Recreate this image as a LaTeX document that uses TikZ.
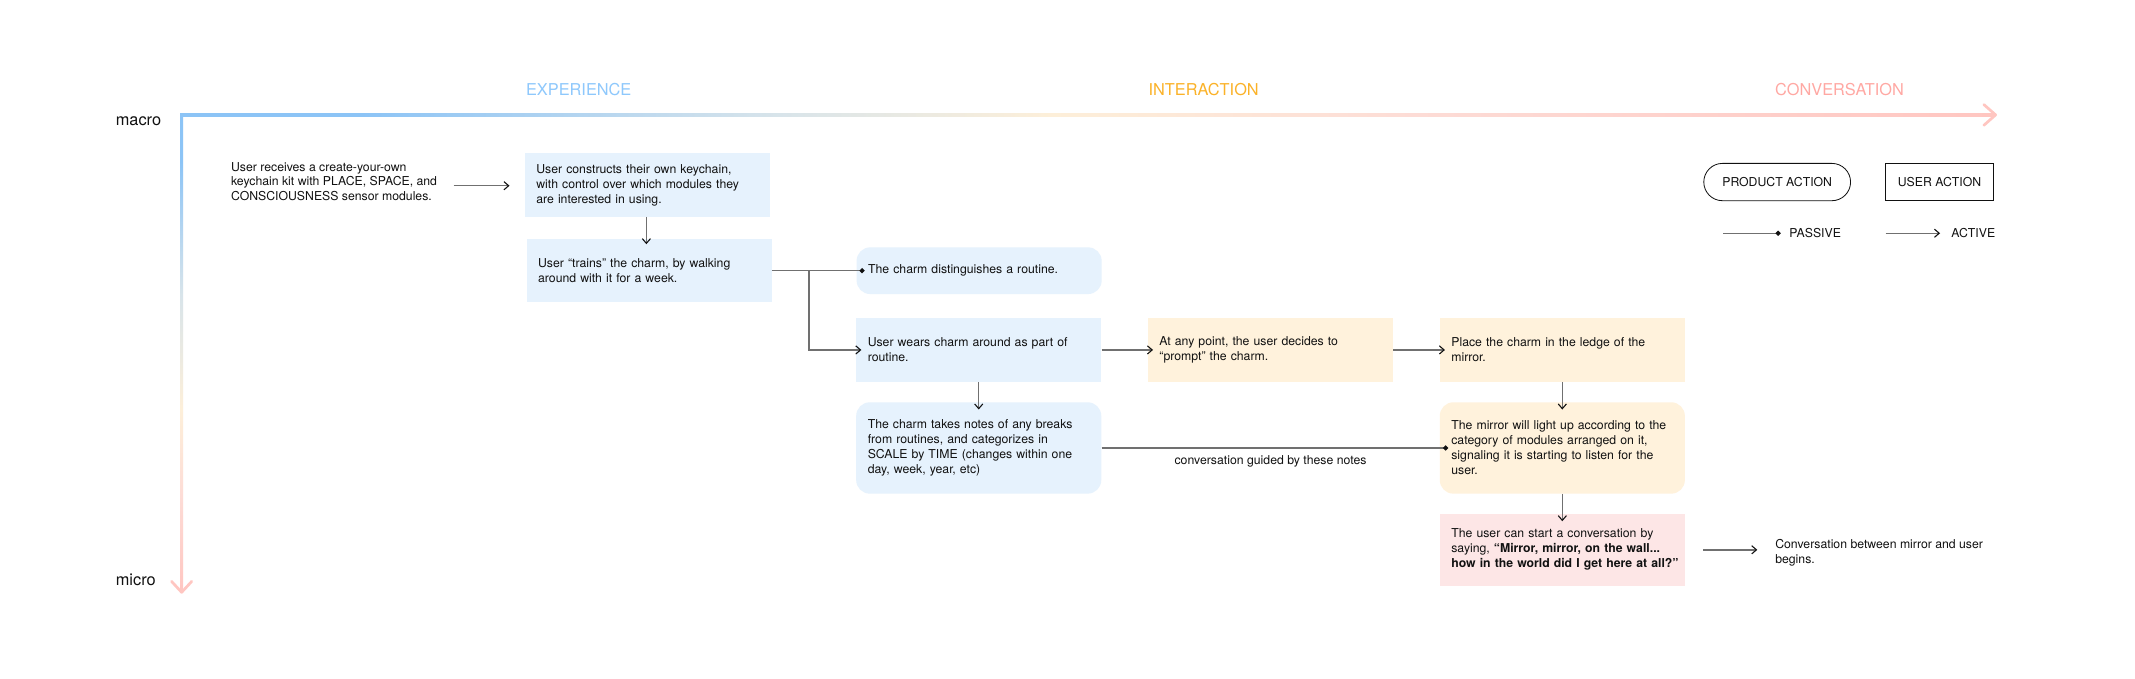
\documentclass[tikz,border=0pt]{standalone}
\usepackage{fontspec}
\setmainfont{TeX Gyre Heros}
\usetikzlibrary{arrows.meta}
\definecolor{boxblue}{HTML}{E6F2FD}
\definecolor{boxcream}{HTML}{FFF2DC}
\definecolor{boxpink}{HTML}{FDE6E6}
\definecolor{linegray}{HTML}{707070}
\definecolor{txt}{HTML}{111111}
\definecolor{expblue}{HTML}{8EC8FC}
\definecolor{intorange}{HTML}{FBB228}
\definecolor{convpink}{HTML}{FFA8A3}
\definecolor{axblue}{HTML}{8CC4F6}
\definecolor{axgrey}{HTML}{D8E4EA}
\definecolor{axcream}{HTML}{FDEFD9}
\definecolor{axpinkl}{HTML}{FDDCD6}
\definecolor{axpink}{HTML}{FFC6C1}
\pgfdeclarehorizontalshading{axisH}{100bp}{color(0bp)=(axblue); color(25bp)=(axblue); color(30bp)=(axblue); color(41.5bp)=(axgrey); color(49bp)=(axcream); color(59bp)=(axpinkl); color(75bp)=(axpink); color(100bp)=(axpink)}
\pgfdeclareverticalshading{axisV}{100bp}{color(0bp)=(axpink); color(25bp)=(axpink); color(35bp)=(axpinkl); color(44bp)=(axcream); color(56bp)=(axgrey); color(70bp)=(axblue); color(75bp)=(axblue); color(100bp)=(axblue)}
\tikzset{
  txtbase/.style={font=\fontsize{9}{11}\selectfont, text=txt},
  bx/.style={txtbase, inner xsep=8.5pt, inner ysep=0pt, text width=163pt, align=left, anchor=center},
  rbx/.style={bx, rounded corners=10pt},
  phase/.style={font=\fontsize{12}{14}\selectfont, inner sep=0pt},
  axislbl/.style={font=\fontsize{12}{14}\selectfont, text=txt, inner sep=0pt, anchor=base west},
  act/.style={draw=linegray, line width=1pt, -{Straight Barb[length=3.5pt,width=6pt,line width=0.8pt,color=txt]}},
  pas/.style={draw=linegray, line width=1pt, -{Circle[length=3.6pt,color=txt]}},
  legbox/.style={txtbase, draw=txt, line width=0.6pt, minimum height=27.4pt, inner xsep=4pt},
}
\begin{document}
\begin{tikzpicture}[x=1pt,y=-1pt]
\useasboundingbox (0,0) rectangle (1568,498);
\fill[white] (0,0) rectangle (1568,498);

% axes
\shade[shading=axisH] (132.3,83.3) rectangle (1465,85.5);
\shade[shading=axisV] (132.3,83.3) rectangle (134.5,434);
\draw[axpink, line width=2pt, line cap=round, line join=round] (1457,76.8) -- (1465.6,84.4) -- (1457,92);
\draw[axpink, line width=2pt, line cap=round, line join=round] (126,427) -- (133.4,435) -- (140.8,427);

\node[axislbl] (macro) at (84.9,92.5) {macro};
\node[axislbl] (micro) at (84.9,430.3) {micro};
\node[phase, text=expblue] (exp) at (425,65.6) {EXPERIENCE};
\node[phase, text=intorange] (int) at (884,65.6) {INTERACTION};
\node[phase, text=convpink] (conv) at (1351,65.6) {CONVERSATION};

% boxes
\node[txtbase, anchor=west, inner sep=0pt, align=left] (t1) at (169.5,133.4) {User receives a create-your-own\\keychain kit with PLACE, SPACE, and\\CONSCIOUSNESS sensor modules.};
\node[bx, fill=boxblue, minimum height=46.5pt] (b2) at (475.4,135.9) {User constructs their own keychain,\\with control over which modules they\\are interested in using.};
\node[bx, fill=boxblue, minimum height=46.5pt] (b3) at (476.7,198.8) {User “trains” the charm, by walking\\around with it for a week.};
\node[rbx, fill=boxblue, minimum height=34.3pt] (b4) at (719.1,198.8) {The charm distinguishes a routine.};
\node[bx, fill=boxblue, minimum height=46.7pt] (b5) at (718.8,257) {User wears charm around as part of\\routine.};
\node[bx, fill=boxcream, minimum height=46.7pt] (b6) at (933,257) {At any point, the user decides to\\“prompt” the charm.};
\node[bx, fill=boxcream, minimum height=46.7pt] (b7) at (1147.4,257) {Place the charm in the ledge of the\\mirror.};
\node[rbx, fill=boxblue, minimum height=67.1pt] (b11) at (718.8,329) {The charm takes notes of any breaks\\from routines, and categorizes in\\SCALE by TIME (changes within one\\day, week, year, etc)};
\node[rbx, fill=boxcream, minimum height=67.1pt] (b8) at (1147.4,329) {The mirror will light up according to the\\category of modules arranged on it,\\signaling it is starting to listen for the\\user.};
\node[bx, fill=boxpink, minimum height=52.6pt] (b9) at (1147.4,403.8) {The user can start a conversation by\\saying, \textbf{“Mirror, mirror, on the wall...}\\\mbox{\textbf{how in the world did I get here at all?”}}};
\node[txtbase, anchor=west, inner sep=0pt, align=left] (t10) at (1303.6,405.9) {Conversation between mirror and user\\begins.};

% connectors
\coordinate (br) at (594.2,198.8);
\draw[act, shorten <=12pt, shorten >=11pt] ([yshift=-3pt]t1.east) -- ([yshift=-3pt]t1.east -| b2.west);
\draw[act, shorten >=-4pt] ([xshift=-0.7pt]b2.south) -- ([xshift=-0.7pt]b2.south |- b3.north);
\draw[pas, shorten >=-6pt] (b3.east) -- (b4.west);
\draw[act, shorten >=-4pt] (br) |- (b5.west);
\draw[act, shorten >=-4pt] (b5.east) -- (b6.west);
\draw[act, shorten >=-4pt] (b6.east) -- (b7.west);
\draw[act, shorten >=-5.5pt] (b5.south) -- (b11.north);
\draw[act, shorten >=-5.5pt] (b7.south) -- (b8.north);
\draw[act, shorten >=-5.5pt] (b8.south) -- (b9.north);
\draw[pas, shorten >=-6.3pt] (b11.east) -- node[midway, txtbase, anchor=base, yshift=-12.2pt, inner sep=0pt] (lbl) {conversation guided by these notes} (b8.west);
\draw[act, shorten <=13.4pt, shorten >=13pt] (b9.east) -- (b9.east -| t10.west);

% legend
\node[legbox, rounded corners=13.7pt, minimum width=107.8pt] (lprod) at (1305.2,133.7) {PRODUCT ACTION};
\node[legbox, minimum width=79.2pt] (luser) at (1424.4,133.7) {USER ACTION};
\node[txtbase, anchor=west, inner sep=0pt] (lpas) at (1314,171.3) {PASSIVE};
\node[txtbase, anchor=west, inner sep=0pt] (lact) at (1432.9,171.3) {ACTIVE};
\coordinate (lp0) at (1265.7,171.3);
\coordinate (la0) at (1384.8,171.3);
\draw[pas, shorten >=6.3pt] (lp0) -- (lpas.west);
\draw[act, shorten >=8.1pt] (la0) -- (lact.west);
\end{tikzpicture}
\end{document}
